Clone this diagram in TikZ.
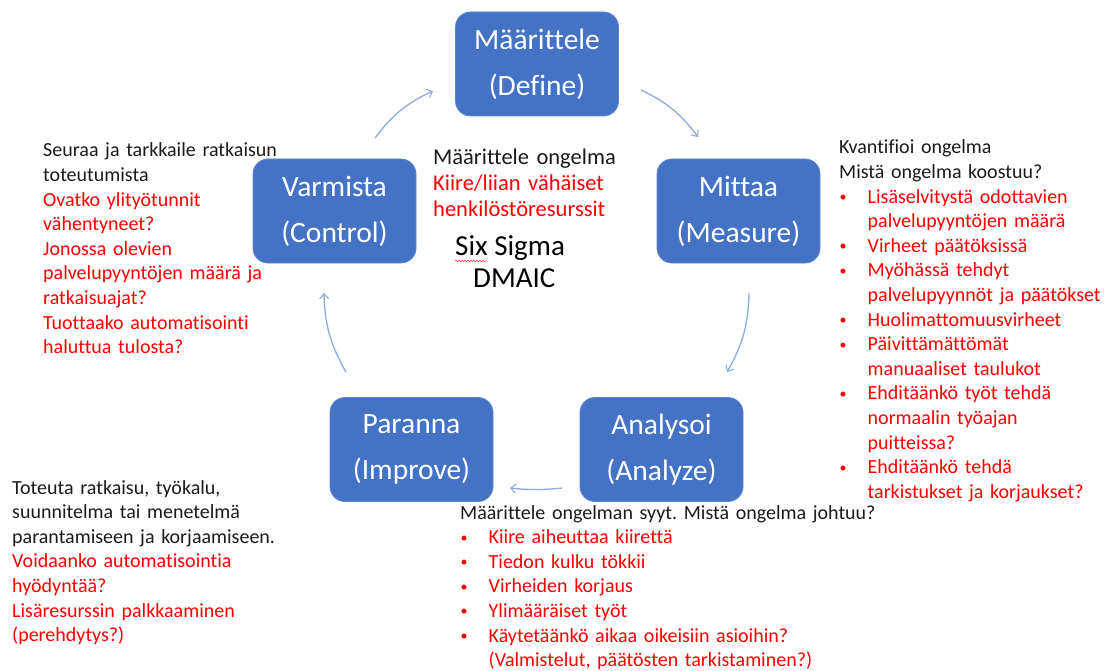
\documentclass[tikz,border=0pt]{standalone}
\usepackage{fontspec}
\setmainfont{Carlito}[RawFeature={-liga;-clig;-calt;-dlig}]
\usetikzlibrary{arrows.meta,decorations.pathmorphing}
\frenchspacing

\definecolor{stepblue}{HTML}{4472C4}
\definecolor{stepedge}{HTML}{5B85CF}
\definecolor{flowblue}{HTML}{8FAADC}
\definecolor{notered}{HTML}{FF0000}
\definecolor{notetext}{HTML}{1A1A1A}

\newcommand\redtext[1]{\textcolor{notered}{#1}}
\newcommand\bulletmark{\makebox[28.5pt][l]{\hspace{0.5pt}\raisebox{1.5pt}{\fontsize{14}{14}\selectfont\textcolor{notered}{•}}}}
\newcommand\hangline{\hspace*{28.5pt}}

\tikzset{
  stepbox/.style={rectangle, rounded corners=15pt, fill=stepblue, draw=stepedge,
    line width=0.8pt, minimum width=163pt, minimum height=104pt, inner sep=0pt,
    text=white, align=center, font=\fontsize{29.5}{46}\selectfont},
  flow/.style={draw=flowblue, line width=1.3pt,
    -{Straight Barb[length=5pt,width=9pt,line width=1.1pt]}},
  notes/.style={anchor=base west, inner sep=0pt, text width=430pt, align=left,
    text=notetext, font=\fontsize{20}{24.6}\selectfont},
  centrenote/.style={anchor=base west, inner sep=0pt, text width=260pt, align=left,
    text=notetext, font=\fontsize{22.5}{26}\selectfont},
  titletext/.style={anchor=base west, inner sep=0pt, text=black,
    font=\fontsize{29}{32}\selectfont},
  squiggle/.style={draw=notered!85, line width=0.5pt, decorate,
    decoration={snake, amplitude=0.7pt, segment length=3pt}}
}

\begin{document}
\begin{tikzpicture}[x=1pt, y=-1pt]
  \useasboundingbox (0,0) rectangle (1116,671);

  % the five DMAIC steps
  \node[stepbox] (define)  at (537,64)      {Määrittele\\(Define)};
  \node[stepbox] (measure) at (738.5,211)   {Mittaa\\(Measure)};
  \node[stepbox] (analyze) at (661.5,449.5) {Analysoi\\(Analyze)};
  \node[stepbox] (improve) at (411.5,449.5) {Paranna\\(Improve)};
  \node[stepbox] (control) at (334.5,211)   {Varmista\\(Control)};

  % ends of the cycle arrows
  \coordinate (dm1) at (641,90);   \coordinate (dm2) at (698,137);
  \coordinate (ma1) at (749,293);  \coordinate (ma2) at (727,372);
  \coordinate (ai1) at (562,488);  \coordinate (ai2) at (510,488);
  \coordinate (ic1) at (346,372);  \coordinate (ic2) at (324,293);
  \coordinate (cd1) at (375,138);  \coordinate (cd2) at (433,91);

  \draw[flow] (dm1) to[bend left=14] (dm2);
  \draw[flow] (ma1) to[bend left=14] (ma2);
  \draw[flow] (ai1) to[bend left=6] (ai2);
  \draw[flow] (ic1) to[bend left=14] (ic2);
  \draw[flow] (cd1) to[bend left=14] (cd2);

  % centre
  \node[centrenote] (problem) at (433,165) {Määrittele ongelma\\
    \redtext{Kiire/liian vähäiset}\\
    \redtext{henkilöstöresurssit}};
  \node[titletext] (sixsigma) at (455,255) {Six Sigma};
  \node[titletext] (dmaic) at (473,287) {DMAIC};
  \draw[squiggle] ([yshift=-6pt]sixsigma.base west) -- ++(31,0);

  % Control notes
  \node[notes] (controlnotes) at (43,157) {Seuraa ja tarkkaile ratkaisun\\
    toteutumista\\
    \redtext{Ovatko ylityötunnit}\\
    \redtext{vähentyneet?}\\
    \redtext{Jonossa olevien}\\
    \redtext{palvelupyyntöjen määrä ja}\\
    \redtext{ratkaisuajat?}\\
    \redtext{Tuottaako automatisointi}\\
    \redtext{haluttua tulosta?}};

  % Measure notes
  \node[notes] (measurenotes) at (839,154) {Kvantifioi ongelma\\
    Mistä ongelma koostuu?\\
    \bulletmark\redtext{Lisäselvitystä odottavien}\\
    \hangline\redtext{palvelupyyntöjen määrä}\\
    \bulletmark\redtext{Virheet päätöksissä}\\
    \bulletmark\redtext{Myöhässä tehdyt}\\
    \hangline\redtext{palvelupyynnöt ja päätökset}\\
    \bulletmark\redtext{Huolimattomuusvirheet}\\
    \bulletmark\redtext{Päivittämättömät}\\
    \hangline\redtext{manuaaliset taulukot}\\
    \bulletmark\redtext{Ehditäänkö työt tehdä}\\
    \hangline\redtext{normaalin työajan}\\
    \hangline\redtext{puitteissa?}\\
    \bulletmark\redtext{Ehditäänkö tehdä}\\
    \hangline\redtext{tarkistukset ja korjaukset?}};

  % Improve notes
  \node[notes] (improvenotes) at (12,494) {Toteuta ratkaisu, työkalu,\\
    suunnitelma tai menetelmä\\
    parantamiseen ja korjaamiseen.\\
    \redtext{Voidaanko automatisointia}\\
    \redtext{hyödyntää?}\\
    \redtext{Lisäresurssin palkkaaminen}\\
    \redtext{(perehdytys?)}};

  % Analyze notes
  \node[notes] (analyzenotes) at (460,519) {Määrittele ongelman syyt. Mistä ongelma johtuu?\\
    \bulletmark\redtext{Kiire aiheuttaa kiirettä}\\
    \bulletmark\redtext{Tiedon kulku tökkii}\\
    \bulletmark\redtext{Virheiden korjaus}\\
    \bulletmark\redtext{Ylimääräiset työt}\\
    \bulletmark\redtext{Käytetäänkö aikaa oikeisiin asioihin?}\\
    \hangline\redtext{(Valmistelut, päätösten tarkistaminen?)}};
\end{tikzpicture}
\end{document}
